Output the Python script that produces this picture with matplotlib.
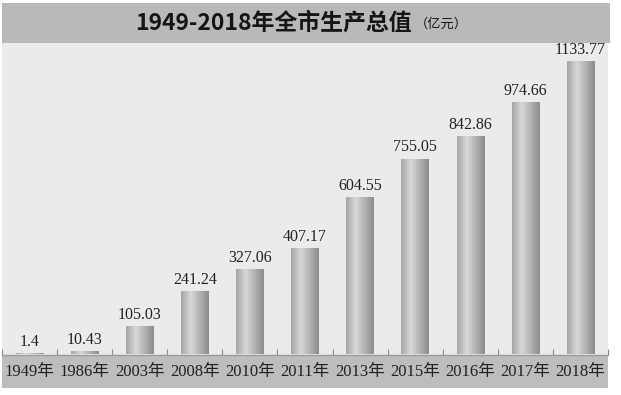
import matplotlib.pyplot as plt
import numpy as np
from matplotlib.colors import LinearSegmentedColormap
from matplotlib.patches import Rectangle

years = ['1949年', '1986年', '2003年', '2008年', '2010年', '2011年',
         '2013年', '2015年', '2016年', '2017年', '2018年']
gdp = [1.4, 10.43, 105.03, 241.24, 327.06, 407.17, 604.55, 755.05, 842.86, 974.66, 1133.77]
gdp_labels = ['1.4', '10.43', '105.03', '241.24', '327.06', '407.17',
              '604.55', '755.05', '842.86', '974.66', '1133.77']

W, H = 621, 395
fig = plt.figure(figsize=(W / 100, H / 100), dpi=100)
fig.patch.set_facecolor('white')

# title bar
fig.add_artist(Rectangle((2 / W, 1 - 43 / H), 608 / W, 40 / H, transform=fig.transFigure,
                         facecolor='#b9b9b9', edgecolor='none', zorder=0))
fig.text(412 / W, 1 - 23 / H, '1949-2018年全市生产总值', ha='right', va='center',
         fontsize=16.5, fontweight='bold', family=['Noto Sans CJK SC', 'DejaVu Sans'], color='#151515')
fig.text(415 / W, 1 - 24 / H, '（亿元）', ha='left', va='center',
         fontsize=9.5, family=['Noto Sans CJK SC', 'DejaVu Sans'], color='#151515')

# gray band under the axis
fig.add_artist(Rectangle((2 / W, 7 / H), 606 / W, 33 / H, transform=fig.transFigure,
                         facecolor='#bdbdbd', edgecolor='none', zorder=0))

ax = fig.add_axes([2 / W, 40.5 / H, 606 / W, 311.5 / H])
ax.set_facecolor('#ebebeb')

# cylinder look for the bars
cm = LinearSegmentedColormap.from_list('cyl', [(0, '#a6a6a6'), (0.35, '#d8d8d8'), (1, '#8c8c8c')])
grad = np.linspace(0, 1, 64).reshape(1, -1)
w = 0.5
for i, v in enumerate(gdp):
    ax.imshow(grad, extent=[i - w / 2, i + w / 2, 0, v], aspect='auto', cmap=cm,
              vmin=0, vmax=1, zorder=2, interpolation='bilinear')
    ax.annotate(gdp_labels[i], (i, v), xytext=(0, 3), textcoords='offset points',
                ha='center', va='bottom', fontsize=11.5, family='Liberation Serif', color='#222222')

ax.set_xlim(-0.5, len(gdp) - 0.5)
ax.set_ylim(0, 1207)
ax.set_yticks([])
ax.set_xticks(range(len(years)))
ax.set_xticklabels(years, fontsize=12, family=['Liberation Serif', 'Noto Sans CJK SC'], color='#222222')
ax.set_xticks(np.arange(-0.5, len(years)), minor=True)
ax.tick_params(axis='x', which='major', length=0, pad=7)
ax.tick_params(axis='x', which='minor', direction='in', length=4, color='#8a8a8a', width=0.8)
for s in ['top', 'left', 'right']:
    ax.spines[s].set_visible(False)
ax.spines['bottom'].set_color('#9a9a9a')
ax.spines['bottom'].set_linewidth(1)

fig.savefig('out.png', dpi=100)
